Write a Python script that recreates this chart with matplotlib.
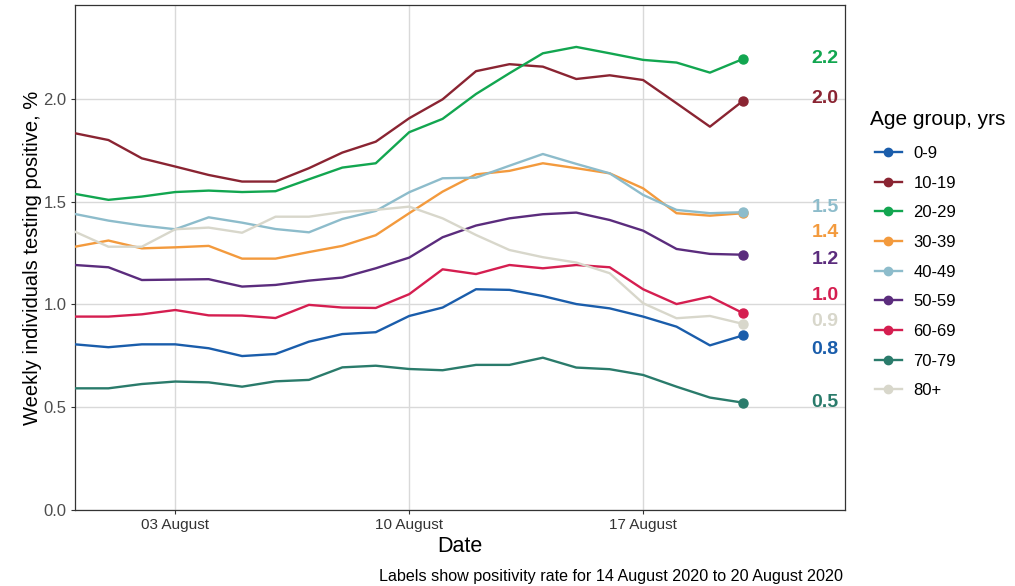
import matplotlib
matplotlib.use("Agg")
import matplotlib.pyplot as plt
import matplotlib.dates as mdates
from matplotlib.lines import Line2D
import numpy as np
import datetime as dt

dates = [dt.datetime(2020, 7, 31) + dt.timedelta(days=i) for i in range(21)]

groups = ["0-9", "10-19", "20-29", "30-39", "40-49", "50-59", "60-69", "70-79", "80+"]
colors = ["#1A5DAB", "#8A2432", "#12A650", "#F39A3D", "#8DBCCB", "#5B2C7D", "#D51E50", "#2A7B6B", "#D8D7CB"]

v_0_9 = [0.806, 0.792, 0.806, 0.806, 0.787, 0.749, 0.759, 0.819, 0.856, 0.865, 0.944,
         0.985, 1.074, 1.071, 1.041, 1.002, 0.981, 0.941, 0.892, 0.801, 0.850]
v_10_19 = [1.833, 1.800, 1.711, 1.671, 1.630, 1.598, 1.598, 1.663, 1.739, 1.792, 1.906,
           1.998, 2.135, 2.169, 2.157, 2.097, 2.115, 2.092, 1.979, 1.865, 1.992]
v_20_29 = [1.538, 1.509, 1.525, 1.547, 1.554, 1.547, 1.551, 1.609, 1.666, 1.687, 1.838,
           1.903, 2.024, 2.125, 2.222, 2.253, 2.222, 2.190, 2.177, 2.128, 2.195]
v_30_39 = [1.281, 1.311, 1.273, 1.278, 1.285, 1.223, 1.223, 1.255, 1.285, 1.337, 1.444,
           1.549, 1.633, 1.650, 1.687, 1.663, 1.638, 1.565, 1.444, 1.432, 1.444]
v_40_49 = [1.440, 1.408, 1.384, 1.366, 1.424, 1.398, 1.367, 1.351, 1.416, 1.455, 1.546,
           1.614, 1.617, 1.675, 1.732, 1.684, 1.638, 1.533, 1.460, 1.444, 1.449]
v_50_59 = [1.192, 1.181, 1.119, 1.121, 1.123, 1.087, 1.095, 1.116, 1.131, 1.176, 1.228,
           1.327, 1.384, 1.419, 1.439, 1.447, 1.411, 1.359, 1.270, 1.246, 1.242]
v_60_69 = [0.941, 0.941, 0.952, 0.973, 0.947, 0.946, 0.934, 0.998, 0.985, 0.983, 1.050,
           1.171, 1.148, 1.192, 1.176, 1.192, 1.181, 1.074, 1.002, 1.038, 0.957]
v_70_79 = [0.592, 0.592, 0.613, 0.625, 0.621, 0.600, 0.626, 0.633, 0.694, 0.702, 0.686,
           0.680, 0.706, 0.706, 0.741, 0.693, 0.685, 0.657, 0.600, 0.547, 0.522]
v_80 = [1.354, 1.281, 1.281, 1.366, 1.374, 1.349, 1.427, 1.427, 1.450, 1.460, 1.476,
        1.419, 1.338, 1.265, 1.230, 1.204, 1.152, 1.006, 0.933, 0.944, 0.905]

series = [v_0_9, v_10_19, v_20_29, v_30_39, v_40_49, v_50_59, v_60_69, v_70_79, v_80]

label_text = ["0.8", "2.0", "2.2", "1.4", "1.5", "1.2", "1.0", "0.5", "0.9"]
label_y = [0.779, 2.0, 2.195, 1.348, 1.474, 1.217, 1.046, 0.521, 0.915]

W, H = 1015, 586
fig = plt.figure(figsize=(W / 100, H / 100), dpi=100)
ax = fig.add_axes([75 / W, 1 - 510 / H, (845 - 75) / W, (510 - 5) / H])

narrow = ["Liberation Sans Narrow", "Liberation Sans", "DejaVu Sans"]
arial = ["Liberation Sans", "DejaVu Sans"]

for vals, c in zip(series, colors):
    ax.plot(dates, vals, color=c, lw=1.7, solid_capstyle="round", zorder=3)
    ax.plot([dates[-1]], [vals[-1]], "o", color=c, ms=6.5, zorder=4)

label_x = dates[-1] + dt.timedelta(hours=2.85 * 24)
for txt, y, c in zip(label_text, label_y, colors):
    ax.text(label_x, y, txt, color=c, fontsize=14,
            fontweight="bold", ha="right", va="center", family=arial, zorder=5)

ax.set_xlim(dates[0], dt.datetime(2020, 8, 23, 1))
ax.set_ylim(0, 2.457)
ax.set_yticks([0.0, 0.5, 1.0, 1.5, 2.0])
ax.set_yticklabels(["0.0", "0.5", "1.0", "1.5", "2.0"], family=arial, fontsize=12, color="#4D4D4D")
xt = [dt.datetime(2020, 8, 3), dt.datetime(2020, 8, 10), dt.datetime(2020, 8, 17)]
ax.set_xticks(xt)
ax.set_xticklabels(["03 August", "10 August", "17 August"], family=narrow, fontsize=11, color="#333333")
ax.grid(True, color="#D9D9D9", lw=1.0, zorder=0)
ax.set_axisbelow(True)
for s in ax.spines.values():
    s.set_color("#333333")
    s.set_linewidth(0.9)
ax.tick_params(axis="both", length=3, color="#333333", width=0.8, pad=3)

ax.set_xlabel("Date", family=narrow, fontsize=15.5, labelpad=3)
ax.set_ylabel("Weekly individuals testing positive, %", family=arial, fontsize=14.5, labelpad=1)

handles = [Line2D([0], [0], color=c, lw=1.7, marker="o", ms=6) for c in colors]
leg = fig.legend(handles, groups, loc="upper left", bbox_to_anchor=(875 / W, 1 - 146 / H),
                 frameon=False, prop={"family": arial, "size": 12},
                 handlelength=1.6, handletextpad=0.7, labelspacing=0.88, borderaxespad=0,
                 borderpad=0)
fig.text(870 / W, 1 - 120 / H, "Age group, yrs", family=arial, fontsize=15, ha="left", va="center")

fig.text(843 / W, 1 - 577 / H, "Labels show positivity rate for 14 August 2020 to 20 August 2020",
         family=narrow, fontsize=11.6, ha="right", va="center")

fig.savefig("out.png", dpi=100)
